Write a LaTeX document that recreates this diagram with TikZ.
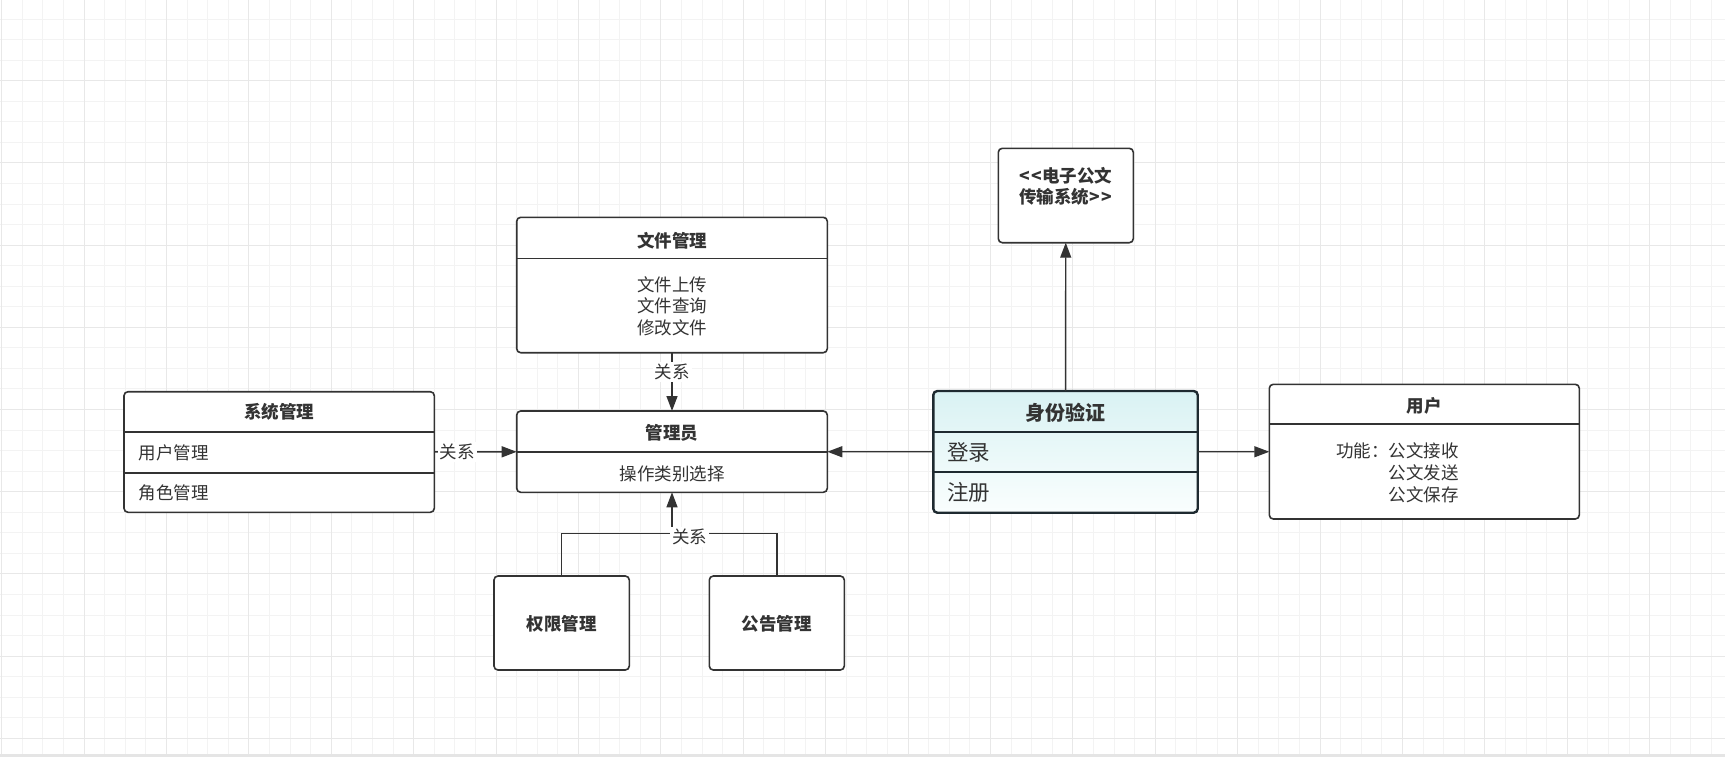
\documentclass[tikz,border=0pt]{standalone}
\usepackage{fontspec}
\setmainfont{Noto Sans CJK SC}
\usetikzlibrary{arrows.meta}
\definecolor{ink}{HTML}{333333}
\definecolor{gridminor}{HTML}{F3F3F3}
\definecolor{gridmajor}{HTML}{E8E8E8}
\definecolor{authtop}{HTML}{D9F2F3}
\definecolor{authbot}{HTML}{FAFEFE}
\definecolor{authline}{HTML}{1E2A30}
\tikzset{
  box/.style={draw=ink, line width=0.8pt, rounded corners=2pt, fill=white, inner sep=0pt, outer sep=0pt},
  title/.style={font=\bfseries\fontsize{8.75}{10.75}\selectfont, text=ink, inner sep=0pt},
  item/.style={font=\fontsize{8.75}{10.9}\selectfont, text=ink, inner sep=0pt},
  bigtext/.style={font=\fontsize{10.75}{13}\selectfont},
  rel/.style={item, fill=white, inner sep=1pt},
  link/.style={draw=ink, line width=0.7pt, -{Triangle[length=7.5pt,width=5.5pt]}},
  divider/.style={draw=ink, line width=0.8pt},
}
\begin{document}
\begin{tikzpicture}[x=0.5pt, y=-0.5pt]
  % paper and grid
  \fill[white] (0,0) rectangle (1725,757);
  \useasboundingbox (0,0) rectangle (1725,757);
  \foreach \i in {0,...,83}
    \draw[gridminor, line width=0.5pt] ({1.7+20.6*\i},0) -- ({1.7+20.6*\i},754);
  \foreach \j in {0,...,37}
    \draw[gridminor, line width=0.5pt] (0,{-1.5+20.55*\j}) -- (1725,{-1.5+20.55*\j});
  \foreach \i in {0,4,...,80}
    \draw[gridmajor, line width=0.5pt] ({1.7+20.6*\i},0) -- ({1.7+20.6*\i},754);
  \foreach \j in {4,8,...,36}
    \draw[gridmajor, line width=0.5pt] (0,{-1.5+20.55*\j}) -- (1725,{-1.5+20.55*\j});
  \fill[gray!20] (0,754) rectangle (1725,757);

  % boxes
  \node[box, minimum width=155.3pt, minimum height=67.7pt] (filemgr) at (672,285) {};
  \node[box, minimum width=155.3pt, minimum height=40.65pt] (admin) at (672,451.65) {};
  \node[box, minimum width=155.15pt, minimum height=60.3pt] (sysmgr) at (279.15,452) {};
  \node[box, minimum width=67.65pt, minimum height=47pt] (perm) at (561.65,623) {};
  \node[box, minimum width=67.5pt, minimum height=47pt] (notice) at (776.8,623) {};
  \node[box, minimum width=67.5pt, minimum height=47.2pt] (docsys) at (1065.8,195.5) {};
  \node[box, draw=authline, line width=1.2pt, top color=authtop, bottom color=authbot,
        minimum width=132.2pt, minimum height=60.85pt] (auth) at (1065.5,451.85) {};
  \node[box, minimum width=155pt, minimum height=67.35pt] (user) at (1424.3,451.65) {};

  % compartments
  \draw[divider] (filemgr.north west) ++(0,41) -- ++(310.6,0);
  \draw[divider] (admin.north west) ++(0,40.7) -- ++(310.6,0);
  \draw[divider] (sysmgr.north west) ++(0,40.3) -- ++(310.3,0);
  \draw[divider] (sysmgr.north west) ++(0,81) -- ++(310.3,0);
  \draw[divider, draw=authline, line width=1.2pt] (auth.north west) ++(0,40.7) -- ++(264.4,0);
  \draw[divider, draw=authline, line width=1.2pt] (auth.north west) ++(0,81) -- ++(264.4,0);
  \draw[divider] (user.north west) ++(0,39.7) -- ++(310,0);

  % texts
  \node[title] (filemgrT) at (672,240.7) {文件管理};
  \node[item, align=center] (filemgrI) at (672,306.3) {文件上传\\文件查询\\修改文件};
  \node[title] (adminT) at (672,433) {管理员};
  \node[item] (adminI) at (672,474) {操作类别选择};
  \node[title] (sysmgrT) at (279.15,412.3) {系统管理};
  \node[item, anchor=west] (sysmgrA) at (138.3,452.7) {用户管理};
  \node[item, anchor=west] (sysmgrB) at (138.3,492.7) {角色管理};
  \node[title] (permT) at (561.65,624) {权限管理};
  \node[title] (noticeT) at (776.8,624) {公告管理};
  \node[title, align=center] (docsysT) at (1065.7,186.3) {<\kern1pt<电子公文\\传输系统>\kern1pt>};
  \node[title, bigtext, font=\bfseries] (authT) at (1065.5,412.7) {身份验证};
  \node[item, bigtext, anchor=west] (authA) at (946.7,452.7) {登录};
  \node[item, bigtext, anchor=west] (authB) at (946.7,492.7) {注册};
  \node[title] (userT) at (1424.3,406) {用户};
  \node[item, anchor=west, align=left] (userI) at (1336,473)
    {功能：公文接收\\\phantom{功能：}公文发送\\\phantom{功能：}公文保存};

  % connectors
  \coordinate (merge) at (672,533.3);
  \draw[link] (filemgr) -- node[rel, pos=0.33] {关系} (admin);
  \draw[link] (sysmgr) -- node[rel, pos=0.28] {关系} (admin);
  \draw[draw=ink, line width=0.7pt] (perm) |- (merge);
  \draw[link] (notice) |- node[rel, pos=0.915, yshift=-1.7pt] {关系} (merge) -- (admin);
  \draw[link] (auth) -- (admin);
  \draw[link] (auth) -- (docsys);
  \draw[link] (auth) -- (user);
\end{tikzpicture}
\end{document}
